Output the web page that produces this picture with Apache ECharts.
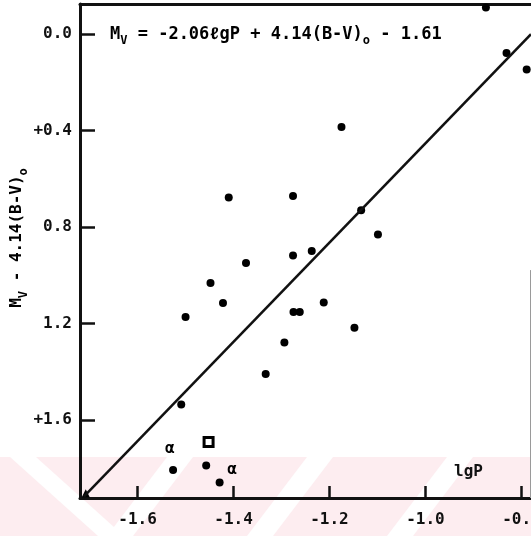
<!DOCTYPE html>
<html>
<head>
<meta charset="utf-8">
<script src="https://cdn.jsdelivr.net/npm/echarts@6/dist/echarts.min.js"></script>
<style>
  html, body { margin: 0; padding: 0; background: #fff; }
  #chart { width: 531px; height: 536px; }
</style>
</head>
<body>
<div id="chart"></div>
<script>
// Period–luminosity relation: lgP against M_V - 4.14(B-V)_0
const stars = [
  [-0.874, -0.111], [-0.831, 0.078], [-0.789, 0.146], [-1.175, 0.385],
  [-1.410, 0.677], [-1.276, 0.671], [-1.134, 0.730], [-1.099, 0.830],
  [-1.276, 0.917], [-1.237, 0.899], [-1.374, 0.949], [-1.448, 1.031],
  [-1.422, 1.114], [-1.500, 1.172], [-1.275, 1.152], [-1.262, 1.152],
  [-1.212, 1.112], [-1.148, 1.217], [-1.294, 1.278], [-1.333, 1.409],
  [-1.509, 1.535], [-1.526, 1.807], [-1.457, 1.788], [-1.429, 1.858]
];
const squareStars = [[-1.452, 1.691]];
const triangleStars = [[-1.708, 1.903]];
const alphaNotes = [[-1.533, 1.717], [-1.403, 1.807]];
const fitLine = [[-1.712, 1.917], [-0.78, 0.0]];
const frameEdge = [[-0.782, 0.978], [-0.782, 1.9227]];

const xTicks = [-1.6, -1.4, -1.2, -1.0, -0.8];
const xTickLabels = ['-1.6', '-1.4', '-1.2', '-1.0', '-0.8'];
const yTicks = [0, 0.4, 0.8, 1.2, 1.6];
const yTickLabels = ['0.0', '+0.4', '0.8', '1.2', '+1.6'];

const INK = '#111';
const MONO = '"DejaVu Sans Mono", "Liberation Mono", monospace';

function labelFor(ticks, labels) {
  return function (v) {
    for (let i = 0; i < ticks.length; i++) {
      if (Math.abs(v - ticks[i]) < 1e-6) return labels[i];
    }
    return '';
  };
}

const mainRich = {
  m: { fontFamily: MONO, fontWeight: 'bold', fontSize: 17, lineHeight: 24, color: INK },
  s: { fontFamily: MONO, fontWeight: 'bold', fontSize: 12, lineHeight: 10, verticalAlign: 'bottom', color: INK }
};
const nameRich = {
  m: { fontFamily: MONO, fontWeight: 'bold', fontSize: 16, lineHeight: 26, color: INK },
  s: { fontFamily: MONO, fontWeight: 'bold', fontSize: 12, lineHeight: 8, verticalAlign: 'bottom', color: INK }
};

const chart = echarts.init(document.getElementById('chart'), null, { renderer: 'canvas' });

chart.setOption({
  animation: false,
  backgroundColor: '#fff',
  grid: { left: 80, right: 0, top: 4, bottom: 38, containLabel: false, outerBoundsMode: 'none' },
  xAxis: [
    {
      type: 'value', min: -1.72, max: -0.78, position: 'bottom',
      splitLine: { show: false },
      axisLine: { show: true, onZero: false, lineStyle: { color: INK, width: 3 } },
      axisTick: { show: true, inside: true, length: 12, customValues: xTicks, lineStyle: { color: INK, width: 2.5 } },
      axisLabel: {
        show: true, customValues: xTicks, margin: 14,
        formatter: labelFor(xTicks, xTickLabels),
        fontFamily: MONO, fontWeight: 'bold', fontSize: 16, color: INK
      }
    },
    {
      type: 'value', min: -1.72, max: -0.78, position: 'top',
      splitLine: { show: false },
      axisLine: { show: true, onZero: false, lineStyle: { color: INK, width: 3 } },
      axisTick: { show: false }, axisLabel: { show: false }
    }
  ],
  yAxis: {
    type: 'value', inverse: true, min: -0.125, max: 1.9227,
    splitLine: { show: false },
    axisLine: { show: true, onZero: false, lineStyle: { color: INK, width: 3 } },
    axisTick: { show: true, inside: true, length: 15, customValues: yTicks, lineStyle: { color: INK, width: 2.5 } },
    axisLabel: {
      show: true, customValues: yTicks, margin: 8,
      formatter: labelFor(yTicks, yTickLabels),
      fontFamily: MONO, fontWeight: 'bold', fontSize: 16, color: INK
    }
  },
  graphic: [
    // pale printed band with light diagonal streaks along the bottom
    { type: 'rect', z: -20, silent: true, shape: { x: 0, y: 457, width: 531, height: 79 }, style: { fill: '#fdedf0' } },
    { type: 'polygon', z: -19, silent: true, shape: { points: [[10, 457], [36, 457], [124, 536], [98, 536]] }, style: { fill: '#fff' } },
    { type: 'polygon', z: -19, silent: true, shape: { points: [[167, 457], [193, 457], [133, 536], [107, 536]] }, style: { fill: '#fff' } },
    { type: 'polygon', z: -19, silent: true, shape: { points: [[307, 457], [333, 457], [273, 536], [247, 536]] }, style: { fill: '#fff' } },
    { type: 'polygon', z: -19, silent: true, shape: { points: [[447, 457], [473, 457], [413, 536], [387, 536]] }, style: { fill: '#fff' } },
    {
      type: 'text', x: 110, y: 35, silent: true,
      style: {
        text: '{m|M}{s|V}{m| = -2.06ℓgP + 4.14(B-V)}{s|o}{m| - 1.61}',
        rich: mainRich, align: 'left', verticalAlign: 'middle'
      }
    },
    {
      type: 'text', x: 17, y: 238, rotation: Math.PI / 2, silent: true,
      style: {
        text: '{m|M}{s|V}{m| - 4.14(B-V)}{s|o}',
        rich: nameRich, align: 'center', verticalAlign: 'middle'
      }
    },
    {
      type: 'text', x: 454, y: 472, silent: true,
      style: { text: 'lgP', fontFamily: MONO, fontWeight: 'bold', fontSize: 16, fill: INK, align: 'left', verticalAlign: 'middle' }
    }
  ],
  series: [
    {
      type: 'line', data: fitLine, symbol: 'none', silent: true,
      lineStyle: { color: INK, width: 2.5 },
      markLine: {
        silent: true, symbol: ['none', 'none'], label: { show: false },
        lineStyle: { color: '#9a9a9a', width: 1, type: 'solid' },
        data: [[{ coord: frameEdge[0] }, { coord: frameEdge[1] }]]
      }
    },
    {
      type: 'scatter', data: stars, symbol: 'circle', symbolSize: 8,
      itemStyle: { color: '#000', opacity: 1 }
    },
    {
      type: 'scatter', data: squareStars, symbol: 'rect', symbolSize: 9,
      itemStyle: { color: '#fff', borderColor: '#000', borderWidth: 3, opacity: 1 }
    },
    {
      type: 'scatter', data: triangleStars, symbol: 'triangle', symbolSize: 8,
      itemStyle: { color: '#000', opacity: 1 }
    },
    {
      type: 'scatter', data: alphaNotes, symbol: 'circle', symbolSize: 0,
      itemStyle: { color: INK, opacity: 1 },
      label: {
        show: true, position: 'inside', formatter: 'α', opacity: 1,
        fontFamily: MONO, fontWeight: 'bold', fontSize: 16, color: '#000'
      }
    }
  ]
});
</script>
</body>
</html>
